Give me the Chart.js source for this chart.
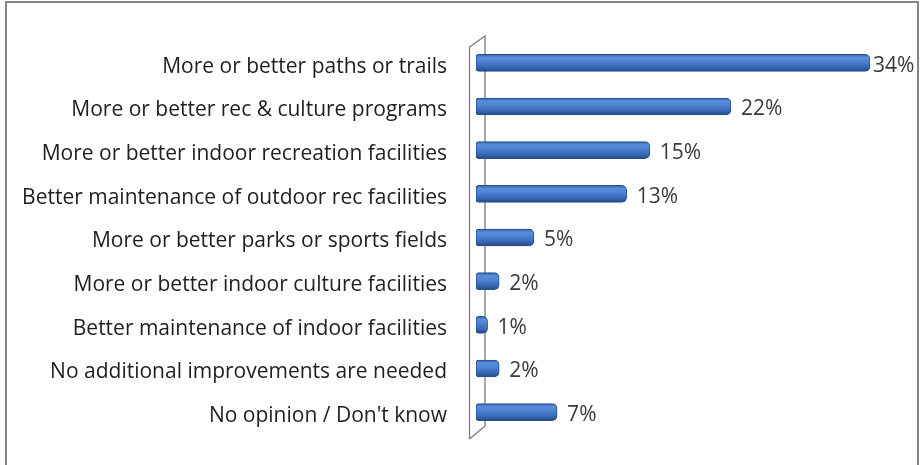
<!DOCTYPE html>
<html>
<head>
<meta charset="utf-8">
<script src="https://cdn.jsdelivr.net/npm/chart.js@4/dist/chart.umd.min.js"></script>
<style>
  html, body { margin: 0; padding: 0; background: #ffffff; }
  #wrap { width: 920px; height: 465px; position: relative; }
</style>
</head>
<body>
<div id="wrap"><canvas id="c" width="920" height="465"></canvas></div>
<script>
const categories = [
  'More or better paths or trails',
  'More or better rec & culture programs',
  'More or better indoor recreation facilities',
  'Better maintenance of outdoor rec facilities',
  'More or better parks or sports fields',
  'More or better indoor culture facilities',
  'Better maintenance of indoor facilities',
  'No additional improvements are needed',
  "No opinion / Don't know"
];
const percentages = [34, 22, 15, 13, 5, 2, 1, 2, 7];
const valueLabels = ['34%', '22%', '15%', '13%', '5%', '2%', '1%', '2%', '7%'];

const BAR_H = 17;
const FONT = '"Open Sans", "Liberation Sans", sans-serif';
const FONT_SIZE = 21;

// Cylinder-style shading across each bar's thickness
function barFill(ctx) {
  const chart = ctx.chart;
  const yScale = chart.scales.y;
  if (!yScale || ctx.dataIndex === undefined) return '#4a7cc9';
  const yc = yScale.getPixelForValue(ctx.dataIndex);
  if (!isFinite(yc)) return '#4a7cc9';
  const g = chart.ctx.createLinearGradient(0, yc - BAR_H / 2, 0, yc + BAR_H / 2);
  g.addColorStop(0, '#2f5ea6');
  g.addColorStop(0.18, '#5a8edb');
  g.addColorStop(0.4, '#4f84d2');
  g.addColorStop(0.75, '#3868b3');
  g.addColorStop(1, '#244a87');
  return g;
}

// Frame round the chart and the slim 3D wall behind the bars
const framePlugin = {
  id: 'frame',
  beforeDatasetsDraw(chart) {
    const { ctx, chartArea } = chart;
    ctx.save();
    // outer frame (open at the bottom)
    ctx.strokeStyle = '#858585';
    ctx.lineWidth = 2;
    ctx.beginPath();
    ctx.moveTo(6, 465);
    ctx.lineTo(6, 2);
    ctx.lineTo(918, 2);
    ctx.lineTo(918, 465);
    ctx.stroke();
    // axis wall
    const fx = chartArea.left - 6.5;   // front edge
    const bx = chartArea.left + 9;     // back edge
    const top = chartArea.top;
    const bot = chartArea.bottom;
    ctx.strokeStyle = '#7a7a7a';
    ctx.lineWidth = 1.3;
    ctx.beginPath();
    ctx.moveTo(fx, bot + 5);
    ctx.lineTo(fx, top + 6);
    ctx.lineTo(bx, top - 5);
    ctx.lineTo(bx, bot - 8);
    ctx.lineTo(fx, bot + 5);
    ctx.stroke();
    ctx.restore();
  },
  afterDatasetsDraw(chart) {
    const { ctx } = chart;
    const meta = chart.getDatasetMeta(0);
    ctx.save();
    ctx.font = FONT_SIZE + 'px ' + FONT;
    ctx.fillStyle = '#3a3a3a';
    ctx.textBaseline = 'middle';
    ctx.textAlign = 'left';
    meta.data.forEach((bar, i) => {
      const txt = valueLabels[i];
      const w = ctx.measureText(txt).width;
      let x = bar.x + 10;
      if (x + w > chart.width - 4) x = bar.x + 3;
      ctx.fillText(txt, x, bar.y + 3);
    });
    ctx.restore();
  }
};

new Chart(document.getElementById('c'), {
  type: 'bar',
  data: {
    labels: categories,
    datasets: [{
      data: percentages,
      backgroundColor: barFill,
      borderColor: '#27508f',
      borderWidth: 1,
      borderSkipped: false,
      borderRadius: { topLeft: 3, bottomLeft: 3, topRight: 5, bottomRight: 5 },
      barThickness: BAR_H
    }]
  },
  options: {
    indexAxis: 'y',
    responsive: false,
    animation: false,
    layout: { padding: { left: 0, right: 50, top: 41, bottom: 31 } },
    plugins: { legend: { display: false }, tooltip: { enabled: false } },
    scales: {
      x: { display: false, min: 0, max: 34 },
      y: {
        grid: { display: false, drawTicks: false },
        border: { display: false },
        ticks: {
          color: '#1e1e1e',
          padding: 29,
          font: { family: FONT, size: FONT_SIZE, lineHeight: '8px' },
          // empty leading line nudges each label slightly below its bar centre
          callback: (value, index) => ['', categories[index]]
        },
        afterFit(scale) {
          scale.width = 476;
          scale.paddingTop = 0;
          scale.paddingBottom = 0;
        }
      }
    }
  },
  plugins: [framePlugin]
});
</script>
</body>
</html>
